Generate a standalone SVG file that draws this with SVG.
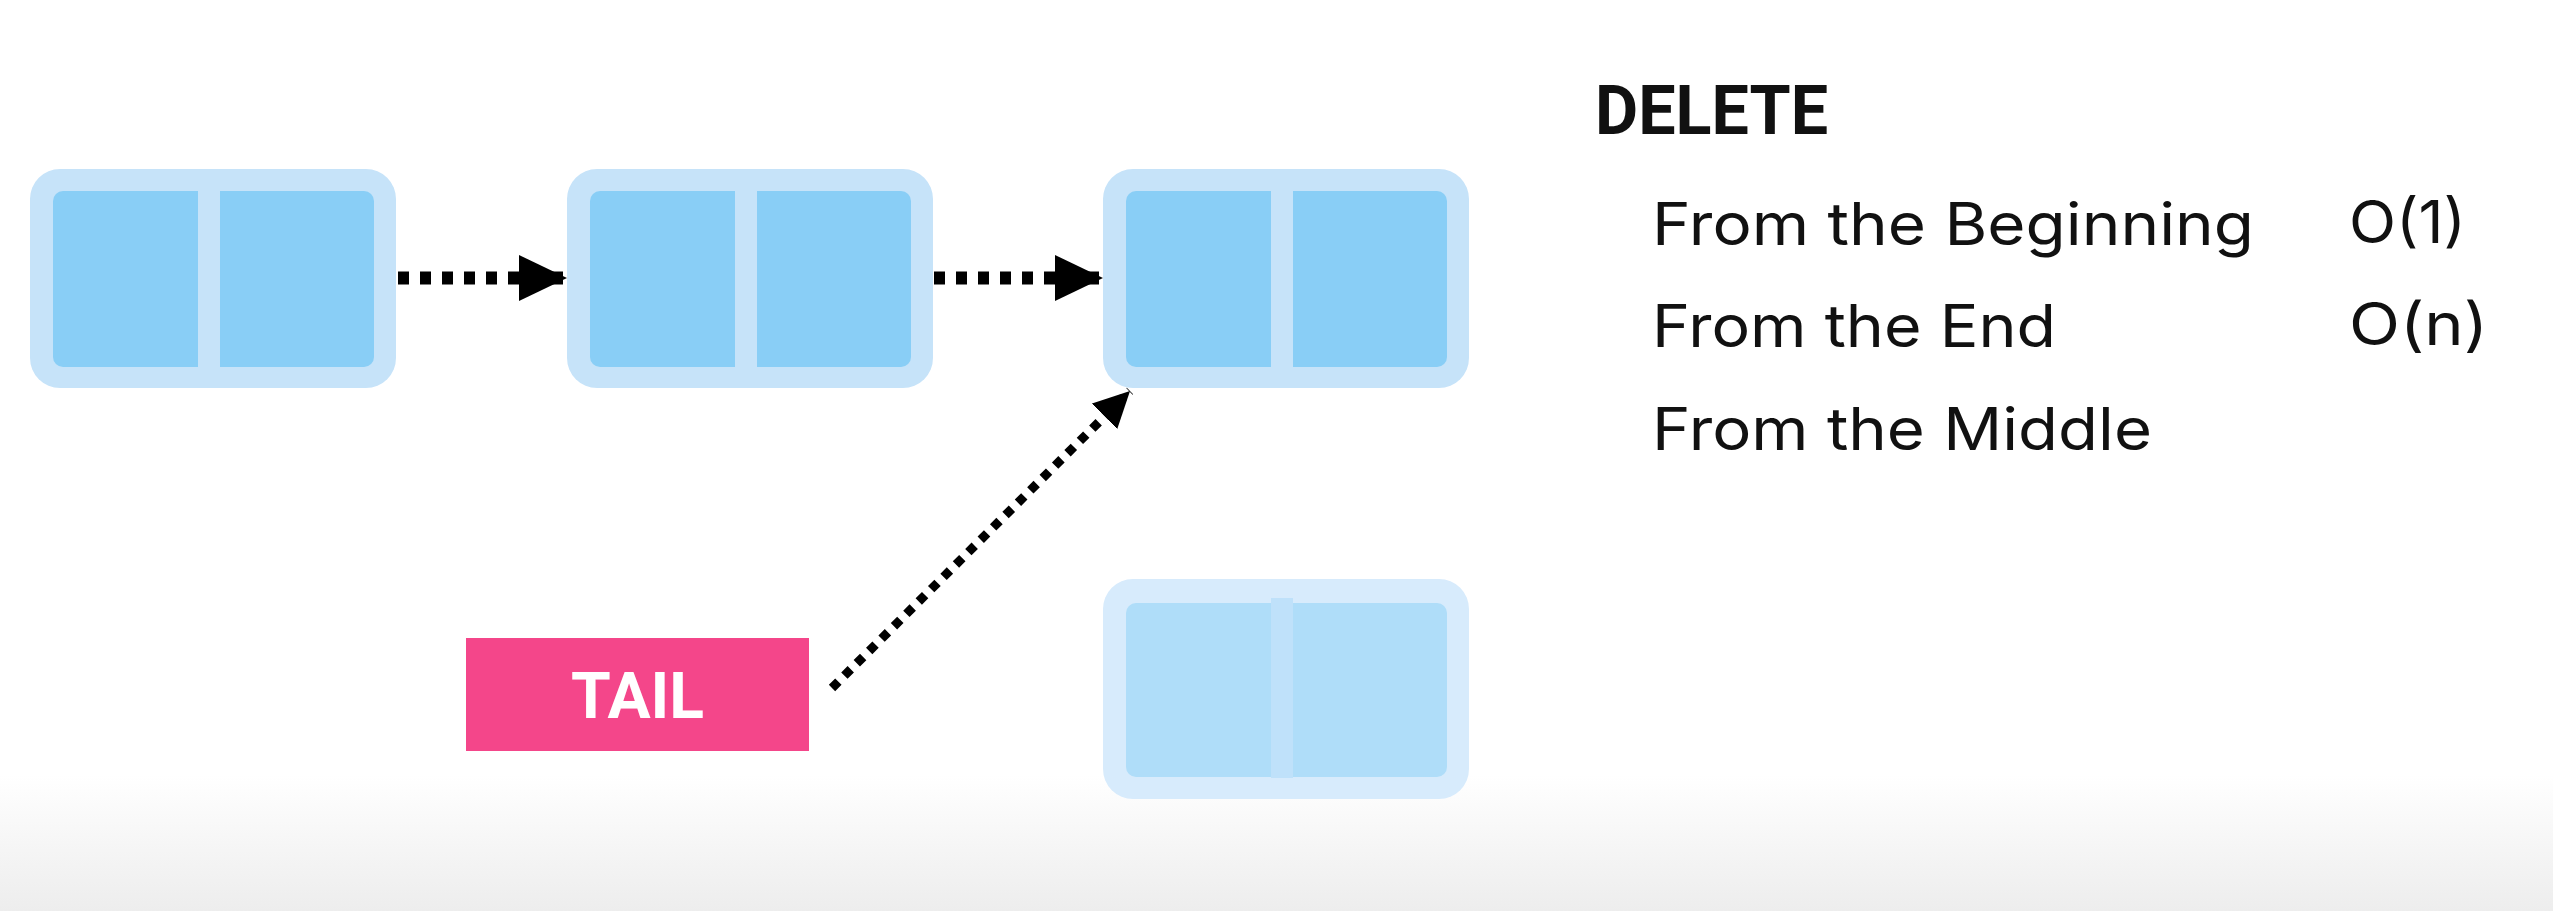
<svg xmlns="http://www.w3.org/2000/svg" width="2553" height="911" viewBox="0 0 2553 911">
<style>
.outer{fill:#c6e3f9}
.inner{fill:#89cef6}
.div{fill:#c6e3f9}
.gh .outer{fill:#d7ebfc}
.gh .inner{fill:#afddf9}
.gh .div{fill:#bfe1fa}
.conn-h{fill:none;stroke:#000;stroke-width:13;stroke-dasharray:11 11}
.conn-d{fill:none;stroke:#000;stroke-width:9;stroke-dasharray:9 8.5}
.title{font-family:Roboto,"Liberation Sans",sans-serif;font-weight:700;font-size:69px;fill:#111}
.item{font-family:Inter,"Liberation Sans",sans-serif;font-size:59px;fill:#111}
.tail{font-family:Roboto,"Liberation Sans",sans-serif;font-weight:700;font-size:64px;fill:#fff}
</style>
<defs>
<linearGradient id="floor" x1="0" y1="0" x2="0" y2="1">
<stop offset="0" stop-color="#ffffff"/>
<stop offset="1" stop-color="#ededed"/>
</linearGradient>
<marker id="ah" markerUnits="userSpaceOnUse" markerWidth="48" markerHeight="46" refX="48" refY="23" orient="auto" viewBox="0 0 48 46">
<path d="M0,0 L48,23 L0,46 z" fill="#000"/>
</marker>
<marker id="ahs" markerUnits="userSpaceOnUse" markerWidth="36" markerHeight="36" refX="36" refY="18" orient="auto" viewBox="0 0 36 36">
<path d="M0,0 L36,18 L0,36 z" fill="#000"/>
</marker>
</defs>
<rect x="0" y="0" width="2553" height="911" fill="#fff"/>
<rect x="0" y="775" width="2553" height="136" fill="url(#floor)"/>

<g id="node1">
<rect class="outer" x="30" y="169" width="366" height="219" rx="30"/>
<rect class="inner" x="53" y="191" width="321" height="176" rx="10"/>
<rect class="div" x="198" y="191" width="22" height="176"/>
</g>
<g id="node2">
<rect class="outer" x="567" y="169" width="366" height="219" rx="30"/>
<rect class="inner" x="590" y="191" width="321" height="176" rx="10"/>
<rect class="div" x="735" y="191" width="22" height="176"/>
</g>
<g id="node3">
<rect class="outer" x="1103" y="169" width="366" height="219" rx="30"/>
<rect class="inner" x="1126" y="191" width="321" height="176" rx="10"/>
<rect class="div" x="1271" y="191" width="22" height="176"/>
</g>
<g id="node4" class="gh">
<rect class="outer" x="1103" y="579" width="366" height="220" rx="30"/>
<rect class="inner" x="1126" y="603" width="321" height="174" rx="10"/>
<rect class="div" x="1271" y="598" width="22" height="180"/>
</g>
<g id="tail">
<rect x="466" y="638" width="343" height="113" fill="#f4468a"/>
<text class="tail" x="637.5" y="718" text-anchor="middle" textLength="133" lengthAdjust="spacingAndGlyphs">TAIL</text>
</g>

<g id="connectors">
<line class="conn-h" x1="398" y1="278" x2="567" y2="278" marker-end="url(#ah)"/>
<line class="conn-h" x1="934" y1="278" x2="1103" y2="278" marker-end="url(#ah)"/>
<line class="conn-d" x1="832" y1="688" x2="1130" y2="391" marker-end="url(#ahs)"/>
</g>

<g id="text">
<text class="title" x="1595" y="134" textLength="233" lengthAdjust="spacingAndGlyphs">DELETE</text>
<text class="item" x="1652" y="245" textLength="602" lengthAdjust="spacingAndGlyphs">From the Beginning</text>
<text class="item" x="1652" y="347" textLength="404" lengthAdjust="spacingAndGlyphs">From the End</text>
<text class="item" x="1652" y="450" textLength="500" lengthAdjust="spacingAndGlyphs">From the Middle</text>
<text class="item" x="2349" y="243" textLength="117" lengthAdjust="spacingAndGlyphs">O(1)</text>
<text class="item" x="2349" y="345" textLength="139" lengthAdjust="spacingAndGlyphs">O(n)</text>
</g>
</svg>
